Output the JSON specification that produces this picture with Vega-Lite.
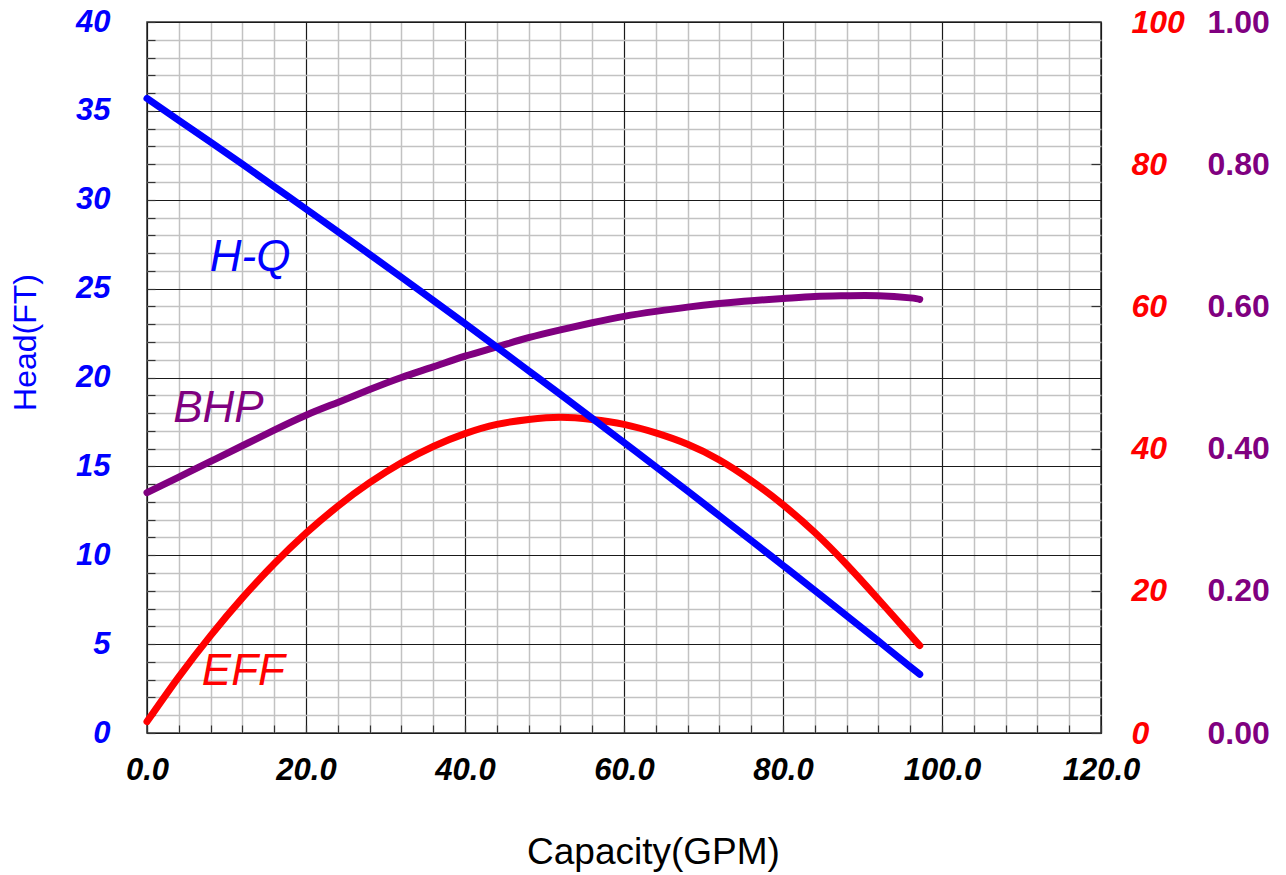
{
  "$schema": "https://vega.github.io/schema/vega-lite/v6.json",
  "width": 954,
  "height": 711,
  "autosize": {"type": "none"},
  "padding": {"left": 147, "top": 22, "right": 185, "bottom": 142},
  "background": "white",
  "config": {"view": {"stroke": "#333333", "strokeWidth": 1.5}, "font": "Liberation Sans"},
  "datasets": {
    "curves": [
      {"gpm": 0, "head": 35.7, "eff": 1.6, "bhp": 0.338},
      {"gpm": 4, "head": 34.47, "eff": 7.9, "bhp": 0.36},
      {"gpm": 8, "head": 33.24, "eff": 13.7, "bhp": 0.382},
      {"gpm": 12, "head": 32.0, "eff": 19.0, "bhp": 0.404},
      {"gpm": 16, "head": 30.74, "eff": 23.8, "bhp": 0.426},
      {"gpm": 20, "head": 29.48, "eff": 28.1, "bhp": 0.447},
      {"gpm": 24, "head": 28.21, "eff": 31.9, "bhp": 0.465},
      {"gpm": 28, "head": 26.93, "eff": 35.2, "bhp": 0.483},
      {"gpm": 32, "head": 25.64, "eff": 38.0, "bhp": 0.5},
      {"gpm": 36, "head": 24.34, "eff": 40.3, "bhp": 0.515},
      {"gpm": 40, "head": 23.03, "eff": 42.1, "bhp": 0.53},
      {"gpm": 44, "head": 21.71, "eff": 43.4, "bhp": 0.543},
      {"gpm": 48, "head": 20.38, "eff": 44.1, "bhp": 0.556},
      {"gpm": 52, "head": 19.05, "eff": 44.4, "bhp": 0.567},
      {"gpm": 56, "head": 17.7, "eff": 44.1, "bhp": 0.577},
      {"gpm": 60, "head": 16.34, "eff": 43.4, "bhp": 0.586},
      {"gpm": 64, "head": 14.98, "eff": 42.2, "bhp": 0.593},
      {"gpm": 68, "head": 13.61, "eff": 40.6, "bhp": 0.599},
      {"gpm": 72, "head": 12.22, "eff": 38.4, "bhp": 0.604},
      {"gpm": 76, "head": 10.83, "eff": 35.5, "bhp": 0.608},
      {"gpm": 80, "head": 9.43, "eff": 32.1, "bhp": 0.611},
      {"gpm": 84, "head": 8.02, "eff": 28.2, "bhp": 0.614},
      {"gpm": 88, "head": 6.6, "eff": 23.7, "bhp": 0.615},
      {"gpm": 92, "head": 5.17, "eff": 18.8, "bhp": 0.615},
      {"gpm": 96, "head": 3.73, "eff": 13.8, "bhp": 0.612},
      {"gpm": 97.2, "head": 3.3, "eff": 12.3, "bhp": 0.61}
    ],
    "labels": [
      {"gpm": 7.9, "head": 26.0, "label": "H-Q"},
      {"gpm": 3.3, "head": 17.5, "label": "BHP"},
      {"gpm": 6.9, "head": 2.7, "label": "EFF"}
    ]
  },
  "encoding": {
    "x": {
      "field": "gpm",
      "type": "quantitative",
      "scale": {"domain": [0, 120], "nice": false, "zero": false},
      "axis": {
        "values": [0,4,8,12,16,20,24,28,32,36,40,44,48,52,56,60,64,68,72,76,80,84,88,92,96,100,104,108,112,116,120],
        "labelExpr": "datum.value % 20 === 0 ? format(datum.value, '.1f') : ''",
        "labelOverlap": false,
        "labelFlush": false,
        "labelFont": "Liberation Sans",
        "labelFontSize": 31,
        "labelFontWeight": "bold",
        "labelFontStyle": "italic",
        "labelColor": "#000000",
        "labelPadding": 30,
        "grid": true,
        "gridColor": {"condition": {"test": "datum.value % 20 === 0", "value": "#1a1a1a"}, "value": "#c2c2c2"},
        "gridWidth": {"condition": {"test": "datum.value % 20 === 0", "value": 1.2}, "value": 1.5},
        "domain": false,
        "tickSize": -8,
        "tickColor": "#333333",
        "tickWidth": 1.2,
        "title": "Capacity(GPM)",
        "titleFont": "Liberation Sans",
        "titleFontSize": 37,
        "titleFontWeight": "normal",
        "titleColor": "#000000",
        "titleX": 506,
        "titleY": 119,
        "titleAlign": "center",
        "titleBaseline": "middle"
      }
    }
  },
  "layer": [
    {
      "data": {"name": "curves"},
      "mark": {"type": "line", "color": "#800080", "strokeWidth": 7, "strokeCap": "round", "interpolate": "natural"},
      "encoding": {
        "y": {
          "field": "bhp",
          "type": "quantitative",
          "scale": {"domain": [0, 1], "nice": false, "zero": false},
          "axis": {
            "orient": "right",
            "offset": 0,
            "values": [0, 0.2, 0.4, 0.6, 0.8, 1],
            "format": ".2f",
            "ticks": false,
            "domain": false,
            "grid": false,
            "labelOverlap": false,
            "labelFlush": false,
            "labelFont": "Liberation Sans",
            "labelFontSize": 32,
            "labelFontWeight": "bold",
            "labelColor": "#800080",
            "labelAlign": "left",
            "labelPadding": 106,
            "title": null
          }
        }
      }
    },
    {
      "data": {"name": "curves"},
      "mark": {"type": "line", "color": "#ff0000", "strokeWidth": 7, "strokeCap": "round", "interpolate": "natural"},
      "encoding": {
        "y": {
          "field": "eff",
          "type": "quantitative",
          "scale": {"domain": [0, 100], "nice": false, "zero": false},
          "axis": {
            "orient": "right",
            "values": [0, 20, 40, 60, 80, 100],
            "domain": false,
            "grid": false,
            "tickSize": -10,
            "tickColor": "#333333",
            "tickWidth": 1.2,
            "labelOverlap": false,
            "labelFlush": false,
            "labelFont": "Liberation Sans",
            "labelFontSize": 32,
            "labelFontWeight": "bold",
            "labelFontStyle": "italic",
            "labelColor": "#ff0000",
            "labelAlign": "left",
            "labelPadding": 40,
            "title": null
          }
        }
      }
    },
    {
      "layer": [
        {
          "data": {"name": "curves"},
          "mark": {"type": "line", "color": "#0000ff", "strokeWidth": 7, "strokeCap": "round", "interpolate": "natural"},
          "encoding": {
            "y": {
              "field": "head",
              "type": "quantitative",
              "scale": {"domain": [0, 40], "nice": false, "zero": false},
              "axis": {
                "orient": "left",
                "values": [0,1,2,3,4,5,6,7,8,9,10,11,12,13,14,15,16,17,18,19,20,21,22,23,24,25,26,27,28,29,30,31,32,33,34,35,36,37,38,39,40],
                "labelExpr": "datum.value % 5 === 0 ? datum.label : ''",
                "labelOverlap": false,
                "labelFlush": false,
                "labelFont": "Liberation Sans",
                "labelFontSize": 31,
                "labelFontWeight": "bold",
                "labelFontStyle": "italic",
                "labelColor": "#0000ff",
                "labelPadding": 45,
                "grid": true,
                "gridColor": {"condition": {"test": "datum.value % 5 === 0", "value": "#1a1a1a"}, "value": "#c2c2c2"},
                "gridWidth": {"condition": {"test": "datum.value % 5 === 0", "value": 1.2}, "value": 1.5},
                "domain": false,
                "tickSize": -8,
                "tickColor": "#333333",
                "tickWidth": 1.2,
                "title": "Head(FT)",
                "titleFont": "Liberation Sans",
                "titleFontSize": 32,
                "titleFontWeight": "normal",
                "titleColor": "#0000ff",
                "titleAngle": -90,
                "titleX": -122,
                "titleY": 320,
                "titleAlign": "center",
                "titleBaseline": "middle"
              }
            }
          }
        },
        {
          "data": {"name": "labels"},
          "mark": {"type": "text", "align": "left", "baseline": "alphabetic", "fontSize": 44, "fontStyle": "italic", "font": "Liberation Sans"},
          "encoding": {
            "y": {
              "field": "head",
              "type": "quantitative",
              "scale": {"domain": [0, 40], "nice": false, "zero": false},
              "axis": {
                "orient": "left",
                "values": [0,1,2,3,4,5,6,7,8,9,10,11,12,13,14,15,16,17,18,19,20,21,22,23,24,25,26,27,28,29,30,31,32,33,34,35,36,37,38,39,40],
                "labelExpr": "datum.value % 5 === 0 ? datum.label : ''",
                "labelOverlap": false,
                "labelFlush": false,
                "labelFont": "Liberation Sans",
                "labelFontSize": 31,
                "labelFontWeight": "bold",
                "labelFontStyle": "italic",
                "labelColor": "#0000ff",
                "labelPadding": 45,
                "grid": true,
                "gridColor": {"condition": {"test": "datum.value % 5 === 0", "value": "#1a1a1a"}, "value": "#c2c2c2"},
                "gridWidth": {"condition": {"test": "datum.value % 5 === 0", "value": 1.2}, "value": 1.5},
                "domain": false,
                "tickSize": -8,
                "tickColor": "#333333",
                "tickWidth": 1.2,
                "title": "Head(FT)",
                "titleFont": "Liberation Sans",
                "titleFontSize": 32,
                "titleFontWeight": "normal",
                "titleColor": "#0000ff",
                "titleAngle": -90,
                "titleX": -122,
                "titleY": 320,
                "titleAlign": "center",
                "titleBaseline": "middle"
              }
            },
            "text": {"field": "label"},
            "color": {
              "field": "label",
              "type": "nominal",
              "scale": {"domain": ["H-Q", "BHP", "EFF"], "range": ["#0000ff", "#800080", "#ff0000"]},
              "legend": null
            }
          }
        }
      ]
    }
  ],
  "resolve": {"scale": {"y": "independent"}}
}
